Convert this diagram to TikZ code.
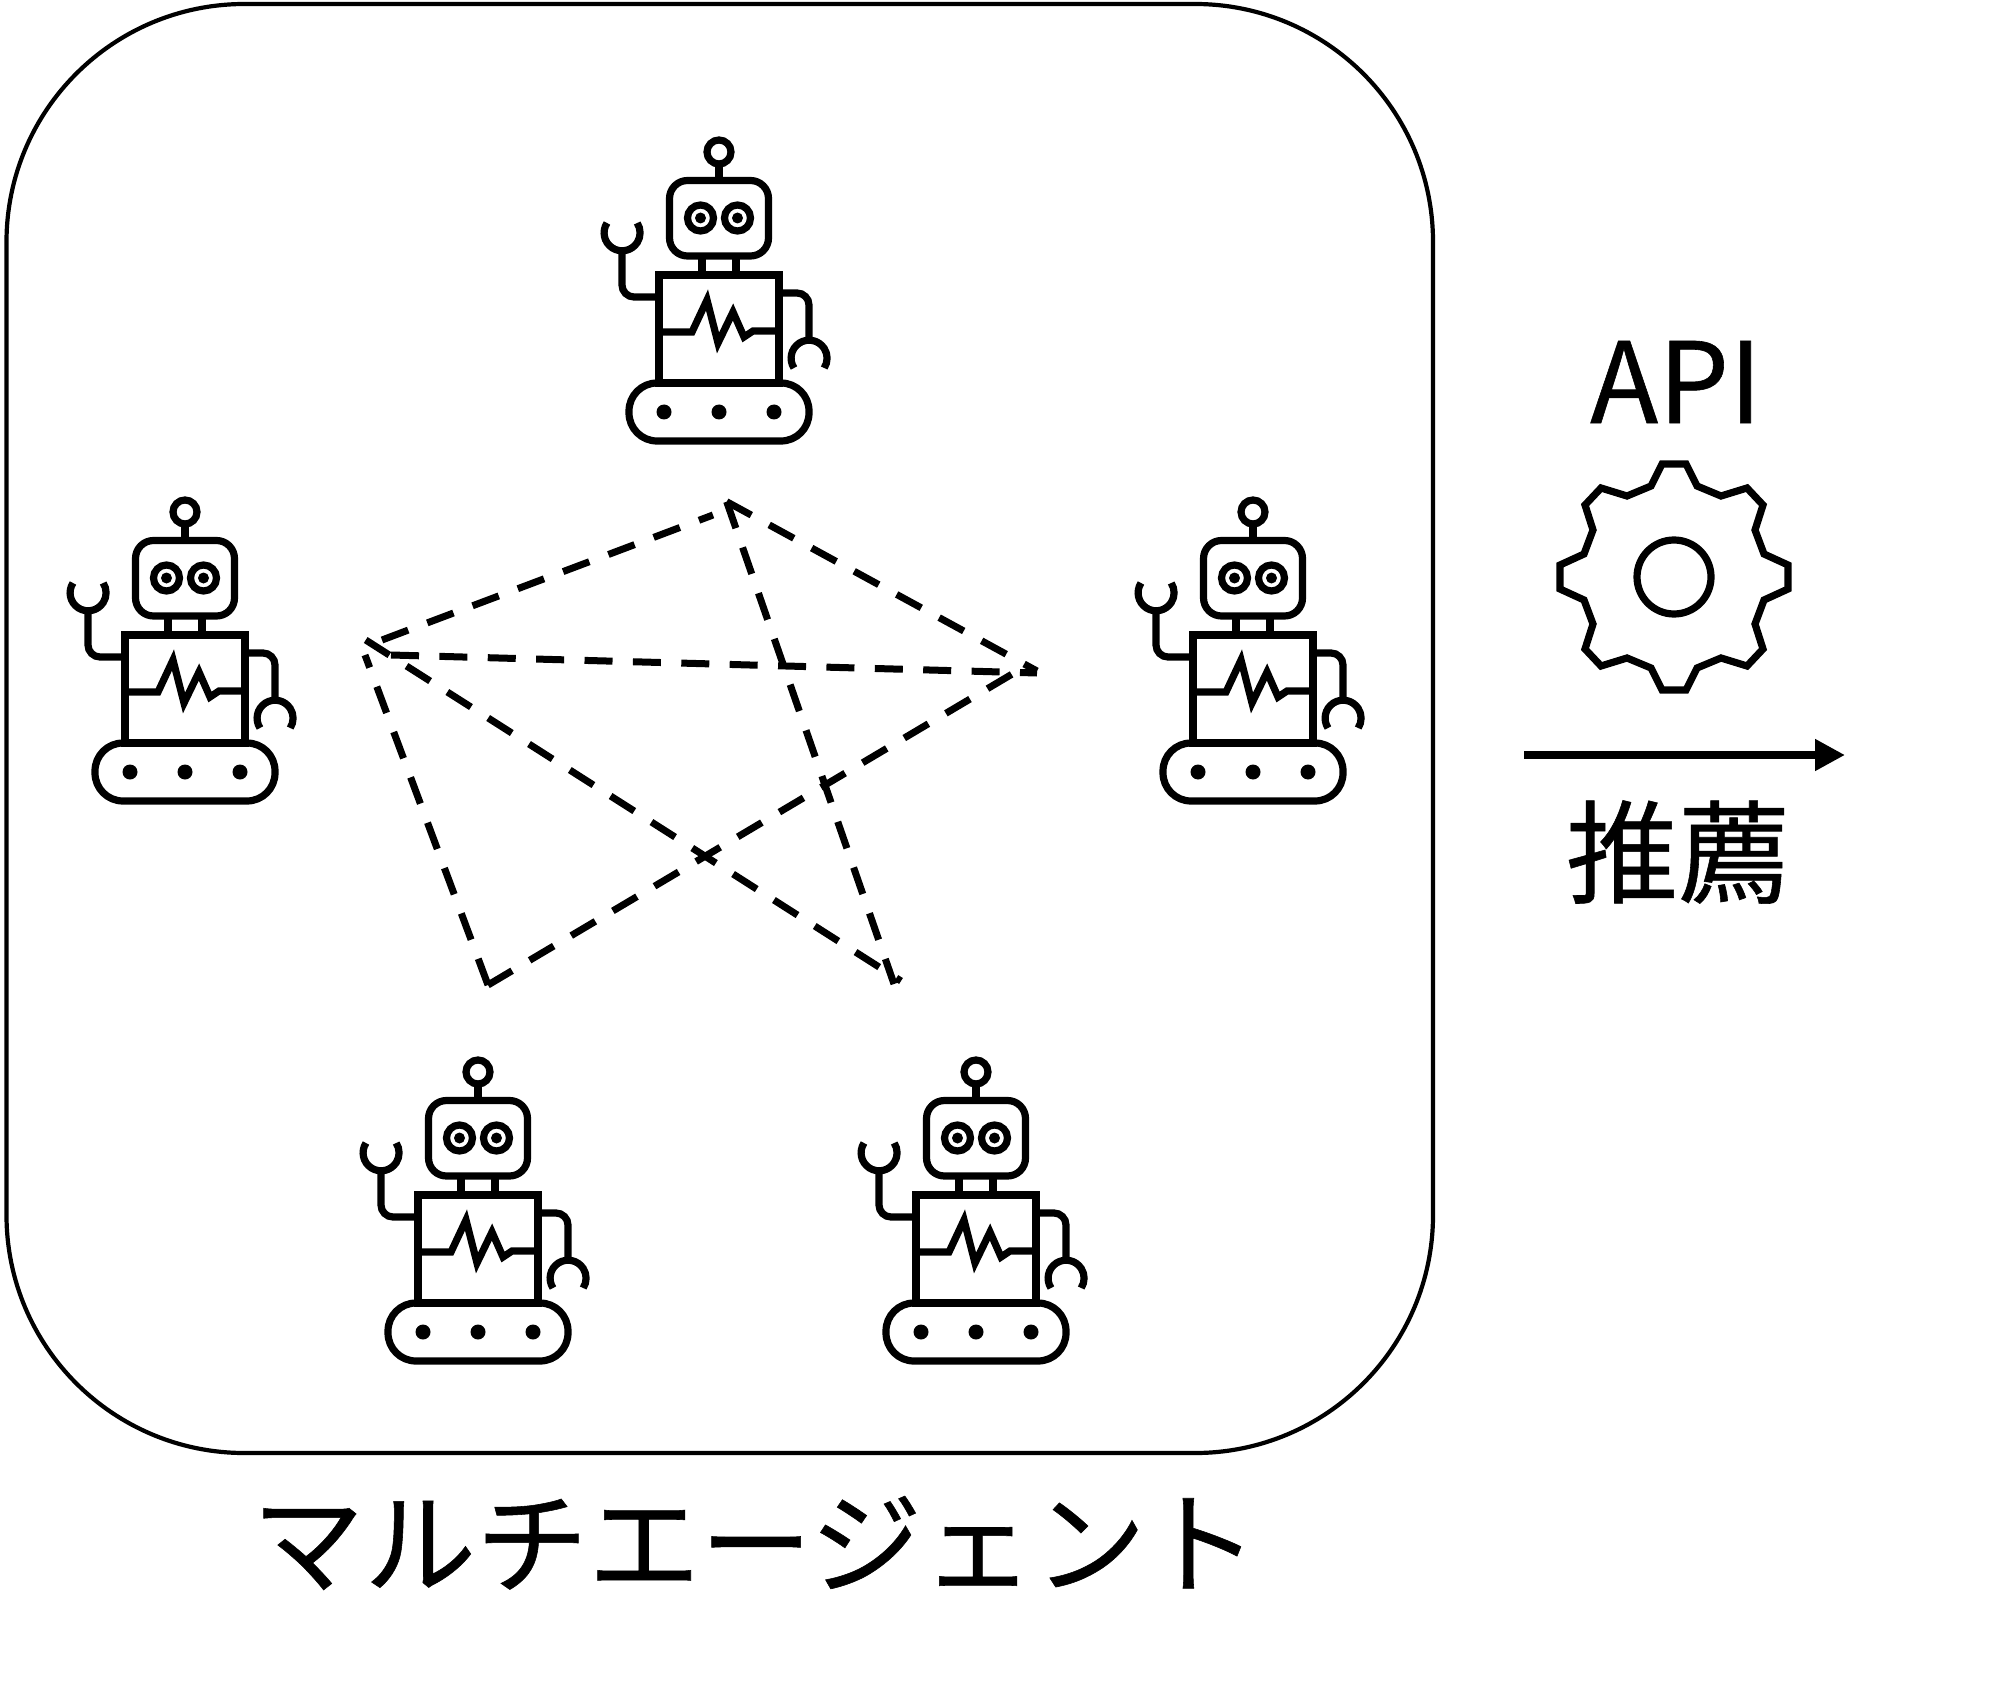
\documentclass[tikz,border=0pt]{standalone}
\usepackage{fontspec}
\setmainfont{Noto Sans CJK JP}[AutoFakeBold=0.5]
\usetikzlibrary{arrows.meta}

\tikzset{
  frameline/.style={line width=2.1pt},
  linkline/.style={line width=3.5pt, dash pattern=on 14pt off 10.2pt},
  iconline/.style={line width=3.6pt, line join=miter},
  bigtext/.style={font=\fontsize{56}{62}\selectfont\bfseries, inner sep=0pt},
  robot/.pic={
    % antenna and head
    \draw[iconline] (0,0) circle[radius=12];
    \draw[iconline] (0,12) -- (0,28);
    \draw[iconline, rounded corners=9pt] (-49.5,28.5) rectangle (49.5,104);
    \draw[iconline] (-18.5,66) circle[radius=13];
    \draw[iconline] (18.5,66) circle[radius=13];
    \fill (-18.5,66) circle[radius=5.5];
    \fill (18.5,66) circle[radius=5.5];
    \draw[iconline] (-17,104) -- (-17,123);
    \draw[iconline] (17,104) -- (17,123);
    % body
    \draw[iconline] (-60,123) rectangle (60,231);
    \draw[iconline] (-60,180) -- (-27,180) -- (-12,148) -- (-1,191) -- (14,160) -- (25,185) -- (34,179) -- (60,179);
    % arms
    \draw[iconline, rounded corners=6pt] (-60,145) -- (-97,145) -- (-97,99);
    \draw[iconline] (-112,71) arc[start angle=213, end angle=-33, radius=18];
    \draw[iconline, rounded corners=6pt] (60,141) -- (90,141) -- (90,188);
    \draw[iconline] (75,216) arc[start angle=147, end angle=393, radius=18];
    % tracks
    \draw[iconline, rounded corners=14pt] (-90,231) rectangle (90,289);
    \foreach \px in {-55,0,55}
      \fill (\px,260) circle[radius=7.5];
  }
}

\begin{document}
\begin{tikzpicture}[x=0.5pt, y=-0.5pt]
\useasboundingbox (0,0) rectangle (2016,1695);

% Outer frame
\draw[frameline, rounded corners=119pt] (6.5,4) rectangle (1433,1453);

% Agents
\pic at (719,152) {robot};
\pic at (185,512) {robot};
\pic at (1253,512) {robot};
\pic at (478,1072) {robot};
\pic at (976,1072) {robot};

% Links
\coordinate (ltop) at (726.7,501.7);
\coordinate (ltopend) at (713,515);
\coordinate (lright) at (1037,671);
\coordinate (lrightend) at (1037,673);
\coordinate (lrightbl) at (1024,667);
\coordinate (lleft) at (365.7,640);
\coordinate (lleftend) at (365,655);
\coordinate (lleftt) at (382,640);
\coordinate (lleftr) at (391,655);
\coordinate (lbl) at (488,985);
\coordinate (lbr) at (894,984);
\coordinate (lbrend) at (901,981);
\draw[linkline] (lleftt) -- (ltopend);
\draw[linkline] (ltop) -- (lright);
\draw[linkline] (ltop) -- (lbr);
\draw[linkline] (lleftr) -- (lrightend);
\draw[linkline] (lleft) -- (lbrend);
\draw[linkline] (lbl) -- (lrightbl);
\draw[linkline] (lbl) -- (lleftend);

% Gear
\draw[iconline] (1686,464) -- (1697,486) -- (1721,496) -- (1747,488) -- (1763,505) -- (1755,530) -- (1764,554) -- (1788,565)
  -- (1788,589) -- (1764,600) -- (1755,624) -- (1763,649) -- (1747,666) -- (1721,658) -- (1697,668) -- (1686,690)
  -- (1662,690) -- (1651,668) -- (1627,658) -- (1601,666) -- (1585,649) -- (1593,624) -- (1584,600) -- (1560,589)
  -- (1560,565) -- (1584,554) -- (1593,530) -- (1585,505) -- (1601,488) -- (1627,496) -- (1651,486) -- (1662,464) -- cycle;
\draw[iconline] (1674,577) circle[radius=37];

% Labels and arrow
\node[bigtext] (apilabel) at (1676,382) {API};
\node[bigtext] (reclabel) at (1678,852) {推薦};
\node[bigtext] (agentlabel) at (755,1543) {マルチエージェント};
\coordinate (arrowstart) at (1524,755);
\coordinate (arrowend) at (1845,755);
\draw[line width=4pt, -{Triangle[length=15pt, width=15pt]}] (arrowstart) -- (arrowend);

\end{tikzpicture}
\end{document}
